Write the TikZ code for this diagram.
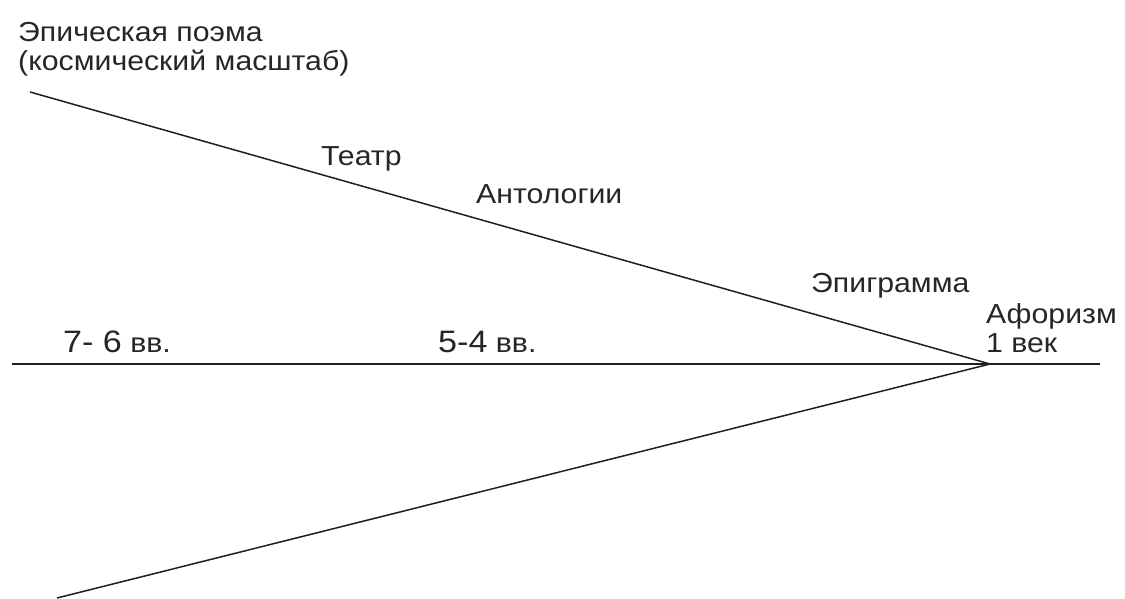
\documentclass[tikz,border=0pt]{standalone}
\usepackage{fontspec}
\setmainfont{Liberation Sans}[FakeStretch=1.1]
\newcommand{\digs}[1]{{\fontsize{31}{34}\selectfont #1}}
\begin{document}
\begin{tikzpicture}[x=1pt,y=-1pt,
  lbl/.style={anchor=base west,inner sep=0pt,font=\fontsize{27.5}{30}\selectfont,text=black!85},
  ln/.style={draw=black!88,line width=1.5pt}]
\useasboundingbox (0,0) rectangle (1125,599);
\coordinate (apex) at (990,364);
\coordinate (topend) at (30,92);
\coordinate (botend) at (57,598);
\coordinate (hleft) at (12,364);
\coordinate (hright) at (1100,364);
\draw[ln] (hleft) -- (hright);
\draw[ln] (topend) -- (apex);
\draw[ln] (apex) -- (botend);
\node[lbl] (epic1) at (18,42) {Эпическая поэма};
\node[lbl] (epic2) at (18,71) {(космический масштаб)};
\node[lbl] (teatr) at (321,165) {Театр};
\node[lbl] (antol) at (476,204) {Антологии};
\node[lbl] (epigr) at (811,292) {Эпиграмма};
\node[lbl] (afor) at (986,323) {Афоризм};
\node[lbl] (vek) at (986,352) {1 век};
\node[lbl] (v76) at (63,352) {\digs{7- 6} вв.};
\node[lbl] (v54) at (438,352) {\digs{5-4} вв.};
\end{tikzpicture}
\end{document}
